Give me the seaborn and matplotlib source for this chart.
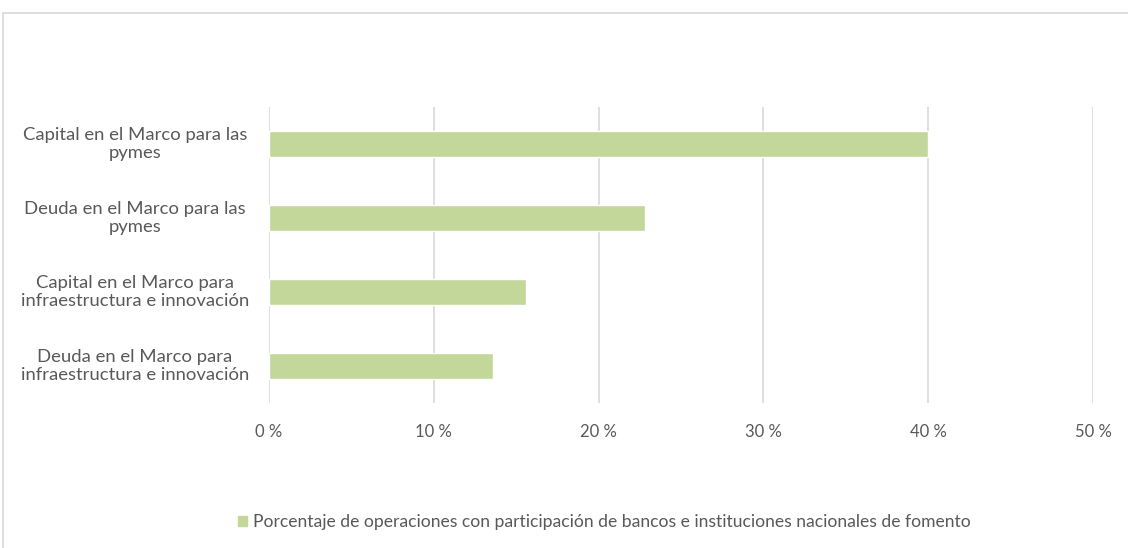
import matplotlib
matplotlib.use("Agg")
import matplotlib.pyplot as plt
import matplotlib.patches as mpatches
import seaborn as sns
import pandas as pd

categories = [
    "Capital en el Marco para las\npymes",
    "Deuda en el Marco para las\npymes",
    "Capital en el Marco para\ninfraestructura e innovación",
    "Deuda en el Marco para\ninfraestructura e innovación",
]
values = [40.0, 22.8, 15.6, 13.6]
series_name = "Porcentaje de operaciones con participación de bancos e instituciones nacionales de fomento"
x_ticks = [0, 10, 20, 30, 40, 50]

sns.set_theme(style="white")
plt.rcParams["font.family"] = ["Lato", "DejaVu Sans"]

bar_color = "#c4d79b"
text_color = "#595959"
grid_color = "#d9d9d9"

df = pd.DataFrame({"categoria": categories, "valor": values})

fig = plt.figure(figsize=(11.28, 5.48), dpi=100)
ax = fig.add_axes([269 / 1128, 1 - 403 / 548, (1093 - 269) / 1128, (403 - 107) / 548])

sns.barplot(data=df, x="valor", y="categoria", orient="h", color=bar_color,
            width=0.35, saturation=1, ax=ax, zorder=3)

ax.set_xlim(0, 50)
ax.set_ylim(3.5, -0.5)
ax.set_xticks(x_ticks)
ax.set_xticklabels([f"{t} %" for t in x_ticks], color=text_color, fontsize=12)
ax.tick_params(axis="x", length=0, pad=15)
ax.tick_params(axis="y", length=0, pad=134 * 0.72)
for lbl in ax.get_yticklabels():
    lbl.set_color(text_color)
    lbl.set_fontsize(13.3)
    lbl.set_horizontalalignment("center")
    lbl.set_multialignment("center")
    lbl.set_linespacing(1.12)
    lbl.set_verticalalignment("center")
ax.set_xlabel("")
ax.set_ylabel("")
ax.xaxis.grid(True, color=grid_color, linewidth=1.2, zorder=0)
ax.yaxis.grid(False)
for s in ax.spines.values():
    s.set_visible(False)

handle = mpatches.Patch(color=bar_color, label=series_name)
fig.legend(handles=[handle], loc="center left", bbox_to_anchor=(222 / 1128, 1 - 522 / 548),
           frameon=False, fontsize=12.6, labelcolor=text_color,
           handlelength=0.55, handleheight=0.55, handletextpad=0.3)

# outer chart border
border = mpatches.Rectangle((3 / 1128, -0.05), 1.1, 1 - 13 / 548 + 0.05,
                            transform=fig.transFigure, fill=False,
                            edgecolor="#d9d9d9", linewidth=1.2)
fig.add_artist(border)

fig.savefig("out.png", dpi=100)
